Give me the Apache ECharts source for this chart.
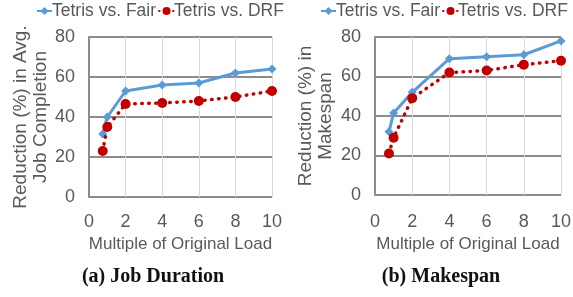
<!DOCTYPE html>
<html>
<head>
<meta charset="utf-8">
<script src="https://cdn.jsdelivr.net/npm/echarts@6/dist/echarts.min.js"></script>
<style>
  html, body { margin: 0; padding: 0; background: #fff; }
  #chart { width: 573px; height: 297px; }
</style>
</head>
<body>
<div id="chart"></div>
<script>
// x = multiple of original load
const loadX = [0.75, 1, 2, 4, 6, 8, 10]

// (a) Job Duration
const durFair = [31.5, 40, 53, 56, 57, 62, 64]
const durDrf = [23, 35, 46.5, 47, 48, 50, 53]

// (b) Makespan
const spanFair = [32, 41.5, 52, 69, 70, 71, 78]
const spanDrf = [21, 29, 49, 62, 63, 66, 68]

const xTicks = [0, 2, 4, 6, 8, 10]
const yTicks = [0, 20, 40, 60, 80]

const pairs = (ys) => loadX.map((x, i) => [x, ys[i]])

const gray = '#595959'
const blue = '#5B9BD5'
const red = '#C00000'
const font = 'Liberation Sans, Arial, sans-serif'
const serif = 'Liberation Serif, DejaVu Serif, serif'

const xAxisOpt = (gridIndex, shift) => ({
  type: 'value',
  gridIndex,
  min: xTicks[0],
  max: xTicks[xTicks.length - 1],
  interval: 2,
  axisLine: { show: false },
  axisTick: { show: false },
  splitLine: { show: true, lineStyle: { color: '#d9d9d9', width: 1 } },
  axisLabel: { color: gray, fontSize: 18, fontFamily: font, margin: 16 + shift },
  name: 'Multiple of Original Load',
  nameLocation: 'middle',
  nameGap: 38 + shift,
  nameTextStyle: { color: gray, fontSize: 17, fontFamily: font }
})

const yAxisOpt = (gridIndex, name, gap) => ({
  type: 'value',
  gridIndex,
  min: yTicks[0],
  max: yTicks[yTicks.length - 1],
  interval: 20,
  axisLine: { show: true, lineStyle: { color: '#8c8c8c', width: 2 } },
  axisTick: { show: false },
  splitLine: { show: true, lineStyle: { color: '#8c8c8c', width: 2 } },
  axisLabel: { color: gray, fontSize: 18, fontFamily: font, margin: 14 },
  name: name,
  nameLocation: 'middle',
  nameRotate: 90,
  nameGap: gap,
  nameTextStyle: { color: gray, fontSize: 19, fontFamily: font, lineHeight: 20 }
})

const fairSeries = (idx, ys) => ({
  name: 'Tetris vs. Fair',
  type: 'line',
  xAxisIndex: idx,
  yAxisIndex: idx,
  data: pairs(ys),
  symbol: 'diamond',
  symbolSize: 9,
  itemStyle: { color: blue },
  lineStyle: { color: blue, width: 3 },
  z: 2
})

const drfSeries = (idx, ys) => ({
  name: 'Tetris vs. DRF',
  type: 'line',
  xAxisIndex: idx,
  yAxisIndex: idx,
  data: pairs(ys),
  symbol: 'circle',
  symbolSize: 10,
  itemStyle: { color: red },
  lineStyle: { color: red, width: 3.5, type: [0.5, 6.5], cap: 'round' },
  z: 3
})

const legendOpt = (left) => ({
  left,
  top: 2,
  width: 280,
  padding: 0,
  itemGap: 2,
  itemWidth: 15,
  itemHeight: 10,
  textStyle: { color: gray, fontSize: 17.5, fontFamily: font, padding: [0, 0, 0, -5] },
  data: ['Tetris vs. Fair', 'Tetris vs. DRF']
})

const myChart = echarts.init(document.getElementById('chart'))
const option = {
  animation: false,
  legend: [legendOpt(36), legendOpt(320)],
  title: [
    {
      text: '(a) Job Duration',
      left: 148,
      top: 262,
      textAlign: 'center',
      textStyle: { fontFamily: serif, fontWeight: 'bold', fontSize: 20, color: '#111' }
    },
    {
      text: '(b) Makespan',
      left: 436,
      top: 262,
      textAlign: 'center',
      textStyle: { fontFamily: serif, fontWeight: 'bold', fontSize: 20, color: '#111' }
    }
  ],
  grid: [
    { left: 89, top: 37, width: 183, height: 160, outerBoundsMode: 'none' },
    { left: 375, top: 37, width: 186, height: 158, outerBoundsMode: 'none' }
  ],
  xAxis: [xAxisOpt(0, 0), xAxisOpt(1, 2)],
  yAxis: [
    yAxisOpt(0, 'Reduction (%) in Avg.\nJob Completion', 38),
    yAxisOpt(1, 'Reduction (%) in\nMakespan', 39)
  ],
  series: [
    fairSeries(0, durFair),
    drfSeries(0, durDrf),
    fairSeries(1, spanFair),
    drfSeries(1, spanDrf)
  ]
}
myChart.setOption(option)
</script>
</body>
</html>
